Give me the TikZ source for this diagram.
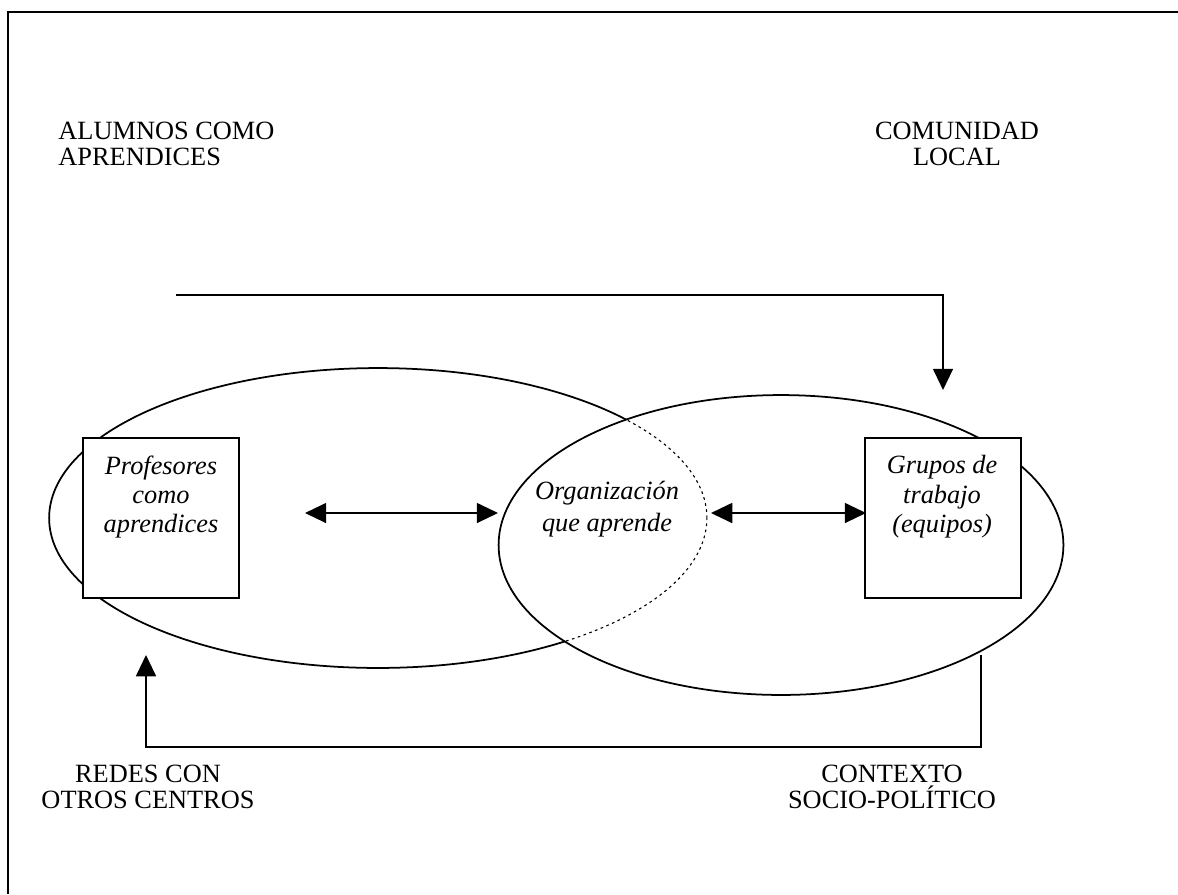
\documentclass[tikz,border=0pt]{standalone}
\usepackage{fontspec}
\setmainfont{Liberation Serif}
\usepackage{tikz}
\usetikzlibrary{arrows.meta}
\usetikzlibrary{calc}
\usetikzlibrary{positioning}
\tikzset{>={Triangle[length=0.34cm,width=0.32cm]}}
\tikzset{
    capstext/.style = {align=center, inner sep=0pt, font=\fontsize{12}{11.8}\selectfont},
    boxnode/.style = {draw, fill=white, line width=0.8pt, minimum width=2.5cm, minimum height=2.56cm, inner sep=0pt},
    boxtext/.style = {align=center, inner sep=0pt, font=\fontsize{12}{13.4}\selectfont\itshape},
    link/.style = {line width=0.8pt}
}

\begin{document}
\begin{tikzpicture}[x=0.016cm, y=-0.016cm]
    \useasboundingbox (0,0) rectangle (1178,894);
    % frame
    \draw[line width=0.9pt] (1178,12) -- (8,12) -- (8,894);

    % the two overlapping sets
    \draw[link] (378,518) ellipse (5.264cm and 2.4cm);
    \draw[link, fill=white] (781,545) ellipse (4.52cm and 2.4cm);
    \begin{scope}
        \clip (781,545) ellipse (4.52cm and 2.4cm);
        \draw[line width=0.5pt, dash pattern=on 1.2pt off 1.6pt] (378,518) ellipse (5.264cm and 2.4cm);
    \end{scope}

    % corner labels
    \node[capstext, align=left, anchor=west] (alumnos) at (58,144) {ALUMNOS COMO\\APRENDICES};
    \node[capstext] (comunidad) at (957,144) {COMUNIDAD\\LOCAL};
    \node[capstext] (redes) at (148,787) {REDES CON\\OTROS CENTROS};
    \node[capstext] (contexto) at (892,787) {CONTEXTO\\SOCIO-POLÍTICO};

    % boxes
    \node[boxnode] (prof) at (161,518) {};
    \node[boxtext] (proftext) at (161,497) {Profesores\\como\\aprendices};
    \node[boxnode] (grupos) at (943,518) {};
    \node[boxtext] (grupostext) at (942,497) {Grupos de\\trabajo\\(equipos)};
    \node[boxtext, font=\fontsize{12}{14.6}\selectfont\itshape] (org) at (607,509) {Organización\\que aprende};

    % connectors
    \coordinate (a1) at (305,513);
    \coordinate (a2) at (498,513);
    \coordinate (b1) at (711,513);
    \coordinate (b2) at (866,513);
    \draw[link, <->] (a1) -- (a2);
    \draw[link, <->] (b1) -- (b2);

    \coordinate (topstart) at (176,295);
    \coordinate (toptip) at (943,390);
    \draw[link, ->] (topstart) -| (toptip);

    \coordinate (botstart) at (981,655);
    \coordinate (bottip) at (146,655);
    \draw[link, ->] (botstart) -- ++(0,92) -| (bottip);
\end{tikzpicture}
\end{document}
